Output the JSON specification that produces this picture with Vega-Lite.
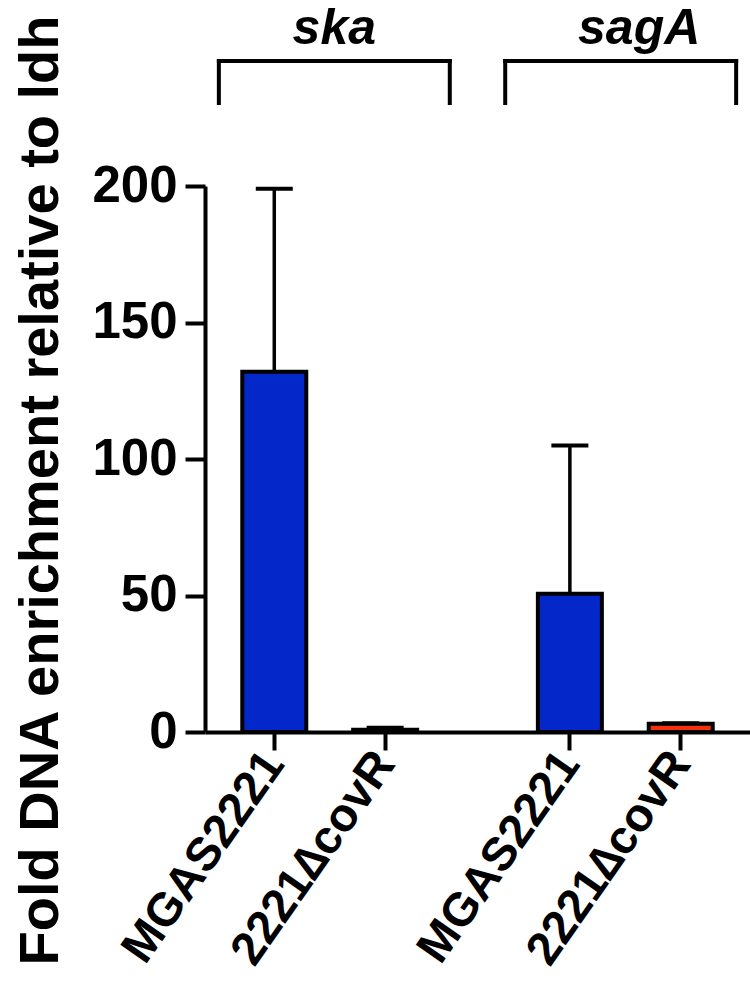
{
  "$schema": "https://vega.github.io/schema/vega-lite/v6.json",
  "autosize": {"type": "none"},
  "width": 545,
  "height": 546,
  "padding": {"left": 205, "top": 186, "right": 0, "bottom": 252},
  "background": "white",
  "config": {"view": {"stroke": null}},
  "datasets": {
    "bars": [
      {"gene": "ska", "strain": "MGAS2221", "bar": "ska|MGAS2221", "value": 132, "upper": 199},
      {"gene": "ska", "strain": "2221∆covR", "bar": "ska|2221∆covR", "value": 0.8, "upper": 1.6},
      {"gene": "sagA", "strain": "MGAS2221", "bar": "sagA|MGAS2221", "value": 50.6, "upper": 104.9},
      {"gene": "sagA", "strain": "2221∆covR", "bar": "sagA|2221∆covR", "value": 3.0, "upper": 3.2}
    ],
    "brackets": [
      {"gene": "ska", "left": "skaL", "right": "skaR", "mid": "skaT"},
      {"gene": "sagA", "left": "sagAL", "right": "sagAR", "mid": "sagAT"}
    ]
  },
  "layer": [
    {
      "data": {"name": "bars"},
      "mark": {"type": "bar", "width": 64, "stroke": "black", "strokeWidth": 4},
      "encoding": {
        "x": {
          "field": "bar", "type": "nominal", "sort": null,
          "scale": {
            "domain": ["skaL","_m5","_m4","_m3","_m2","_m1","ska|MGAS2221","_1","_2","_3","_4","_5","skaT","_7","_8","_9","_10","_11","ska|2221∆covR","_13","_14","_15","_16","_17","_18","skaR","_20","_21","_22","_23","_24","sagAL","_26","_27","_28","_29","_30","_31","sagA|MGAS2221","_33","_34","_35","_36","_37","_38","sagAT","_40","_41","_42","_43","sagA|2221∆covR","_45","_46","_47","_48","_49","sagAR"],
            "paddingInner": 0, "paddingOuter": 1.5
          },
          "axis": {
            "title": null,
            "values": ["ska|MGAS2221", "ska|2221∆covR", "sagA|MGAS2221", "sagA|2221∆covR"],
            "labelExpr": "split(datum.value, '|')[1]",
            "labelAngle": -55,
            "labelFont": "Liberation Sans", "labelFontSize": 47, "labelFontWeight": "bold", "labelColor": "black",
            "labelPadding": 6, "labelLimit": 600, "labelOverlap": false,
            "tickSize": 18, "tickWidth": 4, "tickColor": "black",
            "domainWidth": 4, "domainColor": "black", "grid": false
          }
        },
        "y": {
          "field": "value", "type": "quantitative",
          "scale": {"domain": [0, 200], "nice": false, "zero": true},
          "axis": {
            "title": "Fold DNA enrichment relative to ldh",
            "titleFont": "Liberation Sans", "titleFontSize": 56, "titleFontWeight": "bold", "titleColor": "black", "titlePadding": 22,
            "titleY": 304,
            "values": [0, 50, 100, 150, 200],
            "labelFont": "Liberation Sans", "labelFontSize": 51, "labelFontWeight": "bold", "labelColor": "black",
            "labelPadding": 8,
            "tickSize": 20, "tickWidth": 4, "tickColor": "black",
            "domainWidth": 4, "domainColor": "black", "grid": false
          }
        },
        "fill": {
          "field": "strain", "type": "nominal",
          "scale": {"domain": ["MGAS2221", "2221∆covR"], "range": ["#0327C8", "#F5310B"]},
          "legend": null
        }
      }
    },
    {
      "data": {"name": "bars"},
      "mark": {"type": "rule", "color": "black", "strokeWidth": 3.5},
      "encoding": {
        "x": {"field": "bar", "type": "nominal"},
        "y": {"field": "value", "type": "quantitative"},
        "y2": {"field": "upper"}
      }
    },
    {
      "data": {"name": "bars"},
      "mark": {"type": "tick", "orient": "horizontal", "color": "black", "size": 37, "thickness": 4, "opacity": 1},
      "encoding": {
        "x": {"field": "bar", "type": "nominal"},
        "y": {"field": "upper", "type": "quantitative"}
      }
    },
    {
      "data": {"name": "brackets"},
      "mark": {"type": "rule", "color": "black", "strokeWidth": 4, "strokeCap": "square"},
      "encoding": {
        "x": {"field": "left", "type": "nominal"},
        "x2": {"field": "right"},
        "y": {"datum": 245.8, "type": "quantitative"}
      }
    },
    {
      "data": {"name": "brackets"},
      "mark": {"type": "rule", "color": "black", "strokeWidth": 4, "strokeCap": "square"},
      "encoding": {
        "x": {"field": "left", "type": "nominal"},
        "y": {"datum": 245.8, "type": "quantitative"},
        "y2": {"datum": 230.4}
      }
    },
    {
      "data": {"name": "brackets"},
      "mark": {"type": "rule", "color": "black", "strokeWidth": 4, "strokeCap": "square"},
      "encoding": {
        "x": {"field": "right", "type": "nominal"},
        "y": {"datum": 245.8, "type": "quantitative"},
        "y2": {"datum": 230.4}
      }
    },
    {
      "data": {"name": "brackets"},
      "mark": {"type": "text", "font": "Liberation Sans", "fontSize": 50, "fontWeight": "bold", "fontStyle": "italic", "color": "black", "align": "center", "baseline": "alphabetic"},
      "encoding": {
        "x": {"field": "mid", "type": "nominal", "bandPosition": 1},
        "y": {"datum": 252, "type": "quantitative"},
        "text": {"field": "gene"}
      }
    }
  ]
}
